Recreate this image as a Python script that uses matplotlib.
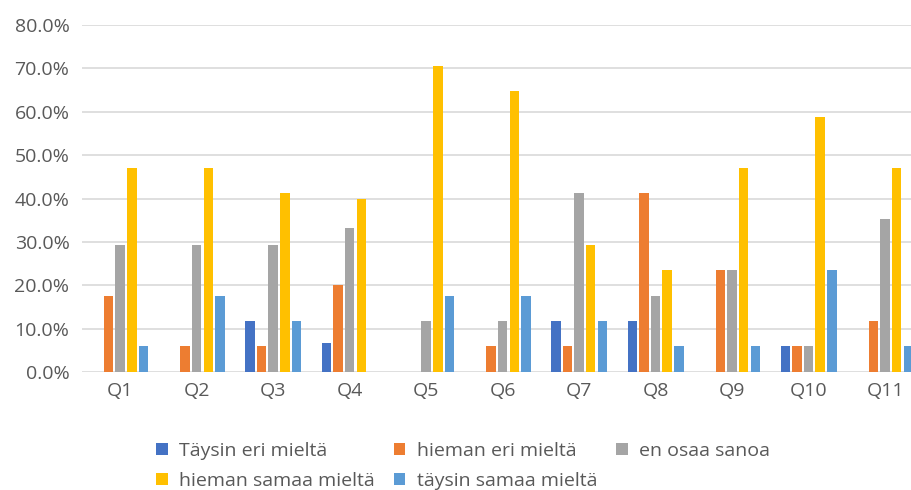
import numpy as np
import matplotlib.pyplot as plt
from matplotlib.ticker import PercentFormatter

kysymykset = ['Q1', 'Q2', 'Q3', 'Q4', 'Q5', 'Q6', 'Q7', 'Q8', 'Q9', 'Q10', 'Q11']

# osuudet prosentteina
taysin_eri = [0, 0, 11.8, 6.7, 0, 0, 11.8, 11.8, 0, 5.9, 0]
hieman_eri = [17.6, 5.9, 5.9, 20.0, 0, 5.9, 5.9, 41.2, 23.5, 5.9, 11.8]
en_osaa = [29.4, 29.4, 29.4, 33.3, 11.8, 11.8, 41.2, 17.6, 23.5, 5.9, 35.3]
hieman_samaa = [47.1, 47.1, 41.2, 40.0, 70.6, 64.7, 29.4, 23.5, 47.1, 58.8, 47.1]
taysin_samaa = [5.9, 17.6, 11.8, 0, 17.6, 17.6, 11.8, 5.9, 5.9, 23.5, 5.9]

sarjat = ['Täysin eri mieltä', 'hieman eri mieltä', 'en osaa sanoa',
          'hieman samaa mieltä', 'täysin samaa mieltä']
arvot = [taysin_eri, hieman_eri, en_osaa, hieman_samaa, taysin_samaa]
varit = ['#4472C4', '#ED7D31', '#A5A5A5', '#FFC000', '#5B9BD5']

plt.rcParams['font.family'] = ['Open Sans', 'DejaVu Sans']
teksti = '#595959'

fig = plt.figure(figsize=(9.12, 4.9), dpi=100)
ax = fig.add_axes([0.0899, 0.2408, 0.9225, 0.708])

x = np.arange(len(kysymykset))
leveys = 0.124
vali = 0.152
palkit = []
for i, (nimi, v, c) in enumerate(zip(sarjat, arvot, varit)):
    b = ax.bar(x + (i - 2) * vali, v, leveys, color=c, label=nimi, zorder=3)
    palkit.append(b)

ax.set_xlim(-0.5, 10.5)
ax.set_ylim(0, 80)
ax.set_yticks(np.arange(0, 81, 10))
ax.yaxis.set_major_formatter(PercentFormatter(decimals=1))
ax.set_xticks(x)
ax.set_xticklabels(kysymykset)
ax.tick_params(axis='both', length=0, labelsize=14, labelcolor=teksti)
ax.tick_params(axis='y', pad=9)
ax.tick_params(axis='x', pad=7)
ax.grid(axis='y', color='#D9D9D9', linewidth=1.2, zorder=0)
for s in ax.spines.values():
    s.set_visible(False)

# legenda kahdelle riville, järjestys rivi kerrallaan
jarjestys = [0, 3, 1, 4, 2]
fig.legend([palkit[k] for k in jarjestys], [sarjat[k] for k in jarjestys],
           ncol=3, loc='lower left', bbox_to_anchor=(0.152, -0.035),
           frameon=False, fontsize=14, labelcolor=teksti,
           handlelength=0.6, handleheight=0.6, handletextpad=0.6,
           columnspacing=0.95, labelspacing=0.62)

fig.savefig('out.png', dpi=100)
